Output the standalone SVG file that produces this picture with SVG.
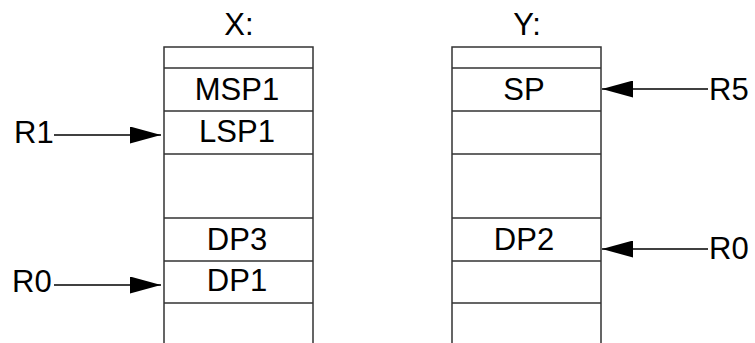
<svg xmlns="http://www.w3.org/2000/svg" width="755" height="343" viewBox="0 0 755 343">
<style>
.t{font-family:"Liberation Sans",Arial,sans-serif;font-size:31px;fill:#000}
.m{text-anchor:middle}
.l{stroke:#333;stroke-width:1.5;fill:none}
.w{stroke:#000;stroke-width:1.3;fill:none}
</style>
<defs>
<marker id="ah" viewBox="0 0 31 17" refX="31" refY="8.5" markerWidth="31" markerHeight="17" markerUnits="userSpaceOnUse" orient="auto">
<path d="M0,0 L31,8.5 L0,17 Z" fill="#000"/>
</marker>
</defs>
<rect width="755" height="343" fill="#fff"/>
<g id="X">
<text class="t m" x="239" y="35">X:</text>
<path class="l" d="M164,343 V47 H313 V343 M164,68 H313 M164,111 H313 M164,154 H313 M164,218 H313 M164,261 H313 M164,303 H313"/>
<text class="t m" x="237" y="100">MSP1</text>
<text class="t m" x="237" y="142">LSP1</text>
<text class="t m" x="237" y="250">DP3</text>
<text class="t m" x="237" y="291">DP1</text>
</g>
<g id="Y">
<text class="t m" x="527" y="35">Y:</text>
<path class="l" d="M452,343 V47 H601 V343 M452,68 H601 M452,111 H601 M452,154 H601 M452,218 H601 M452,261 H601 M452,303 H601"/>
<text class="t m" x="524" y="100">SP</text>
<text class="t m" x="524" y="250">DP2</text>
</g>
<g id="labels">
<text class="t" x="14" y="143">R1</text>
<text class="t" x="12" y="292">R0</text>
<text class="t" x="709" y="100">R5</text>
<text class="t" x="709" y="259">R0</text>
</g>
<g id="connectors">
<line class="w" x1="54" y1="135" x2="161" y2="135" marker-end="url(#ah)"/>
<line class="w" x1="54" y1="285" x2="161" y2="285" marker-end="url(#ah)"/>
<line class="w" x1="708" y1="89" x2="602" y2="89" marker-end="url(#ah)"/>
<line class="w" x1="708" y1="249" x2="602" y2="249" marker-end="url(#ah)"/>
</g>
</svg>
